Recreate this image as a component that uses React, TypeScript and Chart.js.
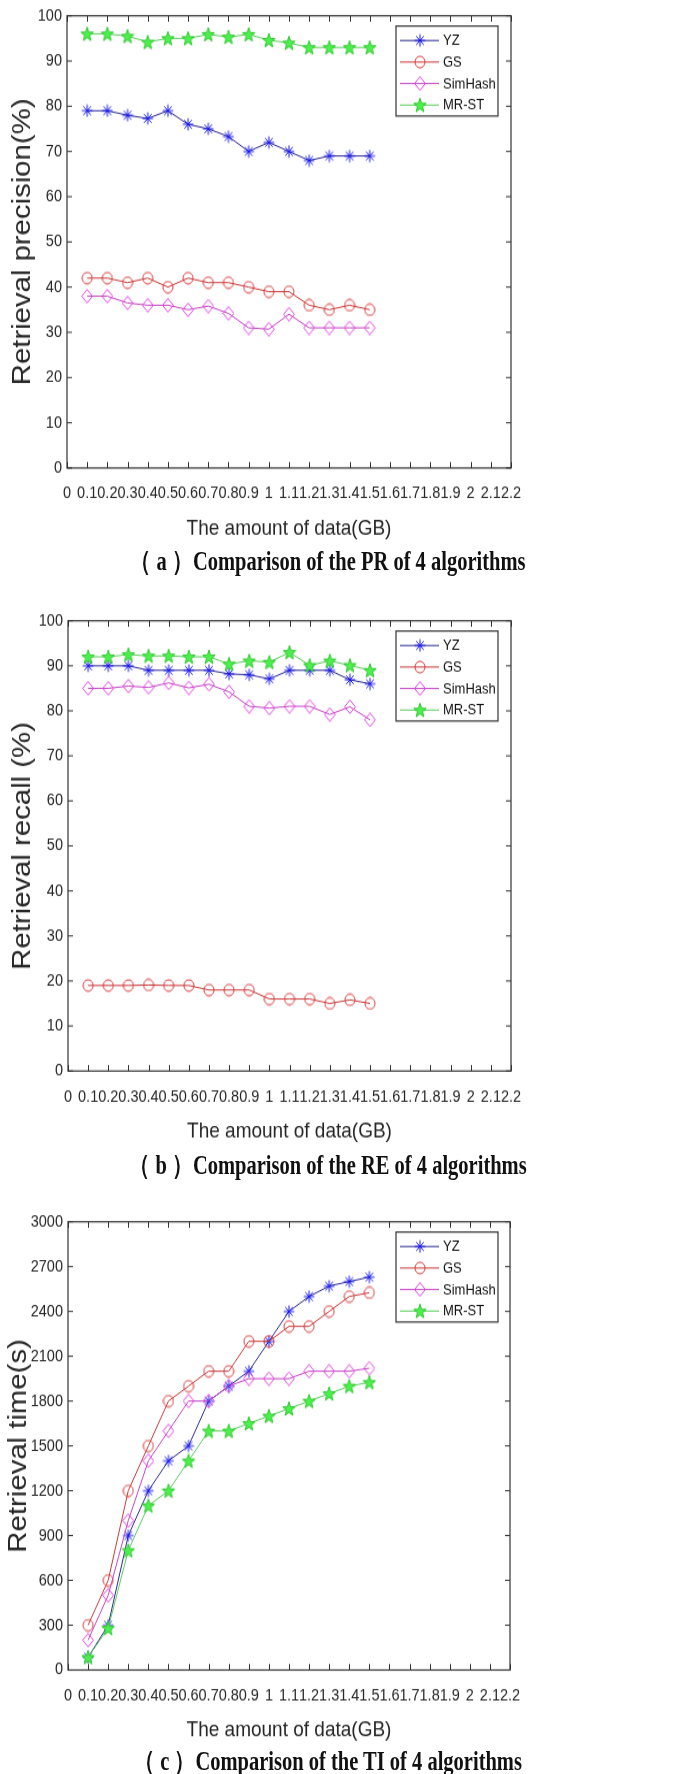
import React, { useEffect, useRef } from 'react';
import { Chart, registerables } from 'chart.js';

Chart.register(...registerables);

// ---------------- data ----------------
const xValues = [0.1, 0.2, 0.3, 0.4, 0.5, 0.6, 0.7, 0.8, 0.9, 1.0, 1.1, 1.2, 1.3, 1.4, 1.5];
const xTickValues = [0, 0.1, 0.2, 0.3, 0.4, 0.5, 0.6, 0.7, 0.8, 0.9, 1, 1.1, 1.2, 1.3, 1.4, 1.5, 1.6, 1.7, 1.8, 1.9, 2, 2.1, 2.2];
const xTickLabels = ['0', '0.1', '0.2', '0.3', '0.4', '0.5', '0.6', '0.7', '0.8', '0.9', '1', '1.1', '1.2', '1.3', '1.4', '1.5', '1.6', '1.7', '1.8', '1.9', '2', '2.1', '2.2'];
const seriesNames = ['YZ', 'GS', 'SimHash', 'MR-ST'];

const yTicksPercent = [0, 10, 20, 30, 40, 50, 60, 70, 80, 90, 100];
const yTicksTime = [0, 300, 600, 900, 1200, 1500, 1800, 2100, 2400, 2700, 3000];

// (a) Retrieval precision
const prYZ = [79, 79, 78, 77.3, 79, 76, 75, 73.3, 70, 72, 70, 68, 69, 69, 69];
const prGS = [42, 42, 41, 42, 40, 42, 41, 41, 40, 39, 39, 36, 35, 36, 35];
const prSimHash = [38, 38, 36.5, 36, 36, 35, 35.8, 34.2, 31, 30.7, 34, 31, 31, 31, 31];
const prMRST = [96, 96, 95.5, 94.2, 95, 95, 95.9, 95.3, 95.9, 94.6, 94, 93, 93, 93, 93];

// (b) Retrieval recall
const reYZ = [90, 90, 90, 89, 89, 89, 89, 88.2, 88, 87.1, 89, 89, 89, 86.9, 86];
const reGS = [19, 19, 19, 19.1, 19, 19, 18, 18, 18, 16, 16, 16, 15, 15.8, 15];
const reSimHash = [85, 85, 85.5, 85.2, 86.2, 85.1, 85.9, 84.2, 81, 80.6, 81, 81, 79.2, 80.9, 78];
const reMRST = [92, 92, 92.5, 92.2, 92.2, 92, 92, 90.4, 91.1, 90.8, 93, 90.1, 91.1, 90.1, 89];

// (c) Retrieval time
const tiYZ = [85, 300, 900, 1200, 1400, 1500, 1800, 1900, 2000, 2200, 2400, 2500, 2570, 2600, 2630];
const tiGS = [300, 600, 1200, 1500, 1800, 1900, 2000, 2000, 2200, 2200, 2300, 2300, 2400, 2500, 2525];
const tiSimHash = [200, 500, 1000, 1400, 1600, 1800, 1800, 1900, 1950, 1950, 1950, 2000, 2000, 2000, 2020];
const tiMRST = [85, 280, 800, 1100, 1200, 1400, 1600, 1600, 1650, 1700, 1750, 1800, 1850, 1900, 1925];

// ---------------- styling ----------------
const S = 1.15; // vertical stretch of the original figure
const FONT = "'Liberation Sans', Arial, Helvetica, sans-serif";
const TEXT = '#262626';
const FRAME = '#333333';

const lineColors = ['#2a2a90', '#c83a3a', '#c444c4', '#5ccc5c'];
const markerColors = ['#1414ee', '#d83c3c', '#e040e0', '#2ec82e'];
const markerFill = [null, null, null, '#4cf04c'];
const markerKinds = ['asterisk', 'circle', 'diamond', 'pentagram'];

function makeMarker(kind: string, stroke: string, fill: string | null) {
  const c = document.createElement('canvas');
  let w = 12, h = 12;
  if (kind === 'diamond') { w = 12; h = 13; }
  if (kind === 'pentagram') { w = 14; h = 14; }
  c.width = w; c.height = h;
  const ctx = c.getContext('2d')!;
  ctx.strokeStyle = stroke;
  ctx.lineWidth = 1;
  const cx = w / 2, cy = h / 2;
  ctx.beginPath();
  if (kind === 'asterisk') {
    const r = 5.3;
    for (let k = 0; k < 4; k++) {
      const a = (k * Math.PI) / 4;
      ctx.moveTo(cx - r * Math.cos(a), cy - r * Math.sin(a));
      ctx.lineTo(cx + r * Math.cos(a), cy + r * Math.sin(a));
    }
    ctx.stroke();
  } else if (kind === 'circle') {
    ctx.arc(cx, cy, 5, 0, Math.PI * 2);
    ctx.stroke();
  } else if (kind === 'diamond') {
    ctx.moveTo(cx, 0.6);
    ctx.lineTo(w - 0.6, cy);
    ctx.lineTo(cx, h - 0.6);
    ctx.lineTo(0.6, cy);
    ctx.closePath();
    ctx.stroke();
  } else {
    const R = 6.5, r = 2.7;
    for (let k = 0; k < 10; k++) {
      const a = -Math.PI / 2 + (k * Math.PI) / 5;
      const rr = k % 2 === 0 ? R : r;
      const px = cx + rr * Math.cos(a), py = cy + 0.6 + rr * Math.sin(a);
      if (k === 0) ctx.moveTo(px, py); else ctx.lineTo(px, py);
    }
    ctx.closePath();
    if (fill) { ctx.fillStyle = fill; ctx.fill(); }
    ctx.stroke();
  }
  return c;
}

type PanelProps = {
  plotTop: number; plotBottom: number; plotLeft: number; plotRight: number;
  yTicks: number[]; yLabel: string; yTitleX: number; series: number[][];
  caption: string; captionY: number;
};

function Panel(p: PanelProps) {
  const ref = useRef<HTMLCanvasElement>(null);
  const canvasTop = p.plotTop - 8;
  const hC = Math.round((p.plotBottom - canvasTop + 80) / S);
  const areaBottom = (p.plotBottom - canvasTop) / S;
  const xAxisH = hC - areaBottom;
  const yTitleSize = 25.5;

  useEffect(() => {
    const canvas = ref.current!;
    const markers = markerKinds.map((k, i) => makeMarker(k, markerColors[i], markerFill[i]));

    const frameLegend = {
      id: 'frameLegend',
      afterDatasetsDraw(chart: any) {
        const ctx = chart.ctx;
        const a = chart.chartArea;
        const xs = chart.scales.x;
        const ys = chart.scales.y;
        ctx.save();
        // inward ticks
        ctx.strokeStyle = FRAME;
        ctx.lineWidth = 1;
        ctx.beginPath();
        const tlV = 6 / S;
        const tlH = 5;
        xTickValues.forEach((v) => {
          const px = Math.round(xs.getPixelForValue(v)) + 0.5;
          ctx.moveTo(px, a.bottom); ctx.lineTo(px, a.bottom - tlV);
          ctx.moveTo(px, a.top); ctx.lineTo(px, a.top + tlV);
        });
        p.yTicks.forEach((v) => {
          const py = ys.getPixelForValue(v);
          ctx.moveTo(a.left, py); ctx.lineTo(a.left + tlH, py);
          ctx.moveTo(a.right, py); ctx.lineTo(a.right - tlH, py);
        });
        ctx.stroke();
        // frame
        ctx.lineWidth = 1.2;
        ctx.strokeRect(a.left, a.top, a.right - a.left, a.bottom - a.top);

        // legend box
        const bl = 396, br = 498;
        const bt = (p.plotTop + 18 - canvasTop) / S;
        const bh = 90 / S;
        ctx.fillStyle = '#ffffff';
        ctx.fillRect(bl, bt, br - bl, bh);
        ctx.lineWidth = 1.2;
        ctx.strokeStyle = FRAME;
        ctx.strokeRect(bl, bt, br - bl, bh);
        const rows = [14.5, 36, 57.5, 79];
        ctx.font = `13px ${FONT}`;
        ctx.textBaseline = 'middle';
        ctx.textAlign = 'left';
        seriesNames.forEach((name, i) => {
          const y = bt + rows[i] / S;
          ctx.strokeStyle = lineColors[i];
          ctx.lineWidth = 1;
          ctx.beginPath();
          ctx.moveTo(400, y); ctx.lineTo(439, y);
          ctx.stroke();
          const m = markers[i];
          ctx.drawImage(m, 420 - m.width / 2, y - m.height / 2);
          ctx.fillStyle = '#111111';
          ctx.fillText(name, 443, y + 0.5);
        });
        ctx.restore();
      },
    };

    const datasets = p.series.map((arr, i) => ({
      label: seriesNames[i],
      data: xValues.map((x, j) => ({ x, y: arr[j] })),
      borderColor: lineColors[i],
      backgroundColor: lineColors[i],
      borderWidth: 1,
      pointStyle: markers[i],
      pointRadius: 5,
      pointBorderColor: markerColors[i],
      tension: 0,
      fill: false,
      order: 4 - i,
    }));

    const chart = new Chart(canvas, {
      type: 'line',
      data: { datasets },
      options: {
        animation: false,
        responsive: false,
        events: [],
        layout: { padding: { top: 8 / S, right: 685 - p.plotRight, left: 0, bottom: 0 } },
        plugins: { legend: { display: false }, tooltip: { enabled: false }, title: { display: false } },
        scales: {
          x: {
            type: 'linear',
            position: 'bottom',
            min: 0,
            max: 2.2,
            afterBuildTicks: (s: any) => { s.ticks = xTickValues.map((v) => ({ value: v })); },
            afterFit: (s: any) => { s.height = xAxisH; },
            grid: { display: false, drawTicks: false },
            border: { display: false },
            ticks: {
              autoSkip: false, maxRotation: 0, minRotation: 0, padding: 13.8, color: TEXT,
              font: { family: FONT, size: 14.5 },
              callback: (_v: any, i: number) => xTickLabels[i],
            },
            title: {
              display: true, text: 'The amount of data(GB)', color: TEXT,
              font: { family: FONT, size: 19 }, padding: { top: 0, bottom: 6 },
            },
          },
          y: {
            type: 'linear',
            min: p.yTicks[0],
            max: p.yTicks[p.yTicks.length - 1],
            afterBuildTicks: (s: any) => { s.ticks = p.yTicks.map((v) => ({ value: v })); },
            afterFit: (s: any) => { s.width = p.plotLeft; },
            grid: { display: false, drawTicks: false },
            border: { display: false },
            ticks: {
              padding: 5, color: TEXT, font: { family: FONT, size: 14.5 },
              callback: (v: any) => String(v),
            },
            title: {
              display: true, text: p.yLabel, color: TEXT,
              font: { family: FONT, size: yTitleSize },
              padding: { top: p.yTitleX - (yTitleSize * 1.2) / 2, bottom: 0 },
            },
          },
        },
      },
      plugins: [frameLegend],
    } as any);
    return () => chart.destroy();
  }, []);

  return (
    <>
      <canvas
        ref={ref}
        width={685}
        height={hC}
        style={{
          position: 'absolute', left: 0, top: canvasTop, width: '685px', height: `${hC}px`,
          transform: `scaleY(${S})`, transformOrigin: 'top left',
        }}
      />
      <div
        style={{
          position: 'absolute', left: 0, width: 656, top: p.captionY - 12, height: 24, lineHeight: '24px',
          textAlign: 'center', fontFamily: "'Liberation Serif', 'Times New Roman', serif", fontWeight: 'bold',
          fontSize: 20.5, color: '#111', transform: 'scaleY(1.3)', transformOrigin: 'center', whiteSpace: 'nowrap',
        }}
      >
        {p.caption}
      </div>
    </>
  );
}

export default function App() {
  return (
    <div style={{ position: 'absolute', left: 0, top: 0, width: 685, height: 1774, background: '#fff', overflow: 'hidden' }}>
      <Panel plotTop={8} plotBottom={468} plotLeft={67} plotRight={511} yTicks={yTicksPercent}
        yLabel="Retrieval precision(%)" yTitleX={23} series={[prYZ, prGS, prSimHash, prMRST]}
        caption="（ a ）Comparison of the PR of 4 algorithms" captionY={561} />
      <Panel plotTop={613} plotBottom={1071} plotLeft={68} plotRight={511} yTicks={yTicksPercent}
        yLabel="Retrieval recall (%)" yTitleX={23} series={[reYZ, reGS, reSimHash, reMRST]}
        caption="（ b ）Comparison of the RE of 4 algorithms" captionY={1165} />
      <Panel plotTop={1214} plotBottom={1670} plotLeft={68} plotRight={510} yTicks={yTicksTime}
        yLabel="Retrieval time(s)" yTitleX={19} series={[tiYZ, tiGS, tiSimHash, tiMRST]}
        caption="（ c ）Comparison of the TI of 4 algorithms" captionY={1761} />
    </div>
  );
}
